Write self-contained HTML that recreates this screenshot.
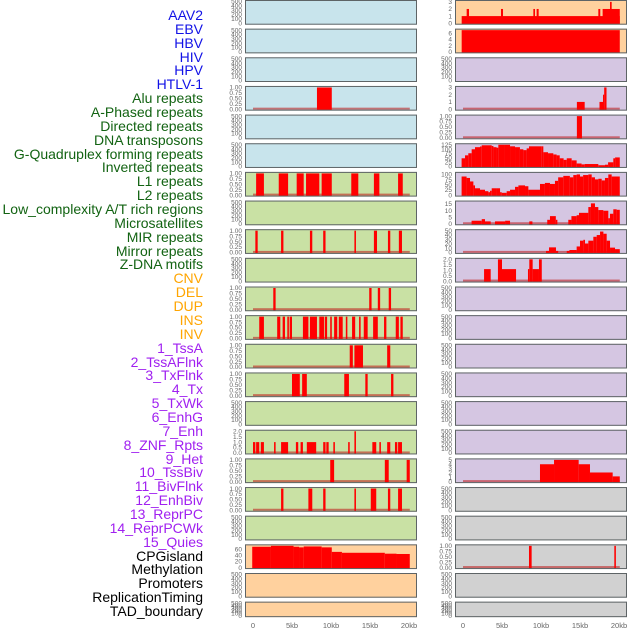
<!DOCTYPE html>
<html><head><meta charset="utf-8">
<style>
html,body{margin:0;padding:0;background:#fff;}
#wrap{position:relative;width:630px;height:630px;overflow:hidden;font-family:"Liberation Sans",sans-serif;}
.lab{position:absolute;right:427px;font-size:14px;line-height:14px;white-space:nowrap;}
svg{position:absolute;left:0;top:0;}
</style></head>
<body>
<div id="wrap">
<svg id="chart" width="630" height="630"></svg>
</div>
<script>
// ---- labels ----
const trackLabels = ["AAV2","EBV","HBV","HIV","HPV","HTLV-1","Alu repeats","A-Phased repeats","Directed repeats","DNA transposons","G-Quadruplex forming repeats","Inverted repeats","L1 repeats","L2 repeats","Low_complexity A/T rich regions","Microsatellites","MIR repeats","Mirror repeats","Z-DNA motifs","CNV","DEL","DUP","INS","INV","1_TssA","2_TssAFlnk","3_TxFlnk","4_Tx","5_TxWk","6_EnhG","7_Enh","8_ZNF_Rpts","9_Het","10_TssBiv","11_BivFlnk","12_EnhBiv","13_ReprPC","14_ReprPCWk","15_Quies","CPGisland","Methylation","Promoters","ReplicationTiming","TAD_boundary"];
const xTickVals = [0,5,10,15,20];
const xTickLabels = ["0","5kb","10kb","15kb","20kb"];
const ticks500 = [0,100,200,300,400,500];
const ticks1 = [0,0.25,0.5,0.75,1];
const ticks1Lab = ["0.00","0.25","0.50","0.75","1.00"];
const ticks2 = [0,0.5,1,1.5,2];
const ticks2Lab = ["0.0","0.5","1.0","1.5","2.0"];

// ---- data: [startKb, endKb, value] ----
const aav2Data = [[-0.17,20.1,1],[0.47,0.77,2],[4.87,5.13,2],[9.02,9.23,2],[9.44,9.7,2],[17.35,17.6,2],[17.9,20.1,2],[18.85,19.06,3]];
const ebvData = [[-0.17,20.1,7]];
const aluLeftData = [[8.2,10.1,1]];
const aluRightData = [[14.6,15.6,1],[17.5,17.95,1],[17.95,18.1,2],[18.1,18.4,3]];
const dirRightData = [[14.6,15.25,1]];
const gquadStarts = [-0.18,0.26,0.68,1.11,1.54,2.18,2.4,3.68,3.9,4.3,4.53,5.38,6.03,6.67,7.3,7.74,8.16,8.46,10.1,10.3,10.9,11.58,12,12.4,12.9,13.3,13.93,14.57,15.2,15.6,17.35,18.2,18.6,19.27,19.5];
const gquadVals = [47,64,76,99,111,115,122,118,111,108,125,125,116,111,99,94,104,116,116,82,76,69,64,47,38,47,35,17,12,14,7,10,24,47,52];
const l2Starts = [-0.18,0.46,0.9,1.33,1.54,2.18,2.82,3.25,3.46,3.68,4.3,4.75,4.96,5.6,6.03,6.67,7.1,7.95,8.38,9.87,10.5,11.15,11.79,12.2,12.86,13.7,14.14,14.57,15,15.4,16.07,16.5,16.92,17.35,17.78,18.2,18.63,19.06];
const l2Vals = [90,83,66,47,33,26,19,14,21,33,33,14,11,19,26,40,47,43,26,54,59,54,69,86,93,86,97,100,90,97,100,86,76,79,71,83,100,90];
const l1Data = [[0.4,1.4,1],[3.3,4.5,1],[5.6,6.5,1],[6.8,8.5,1],[8.8,10.1,1],[12.6,13.5,1],[15.5,16.2,1],[18.6,19.2,1]];
const microData = [[1.1,2.4,2.3],[2.4,2.82,3.5],[2.82,3.55,1.8],[4.1,5.4,1.8],[5.4,6.03,2.3],[8.5,8.9,1.8],[10.8,11.15,3],[11.15,11.9,5.8],[11.9,12.1,3],[13.5,13.9,3],[13.9,14.57,5.8],[14.57,14.87,6.5],[14.87,16.07,8.3],[16.07,16.4,12.7],[16.4,16.92,15.5],[16.92,17.35,12.7],[17.35,17.99,10.4],[17.99,18.63,9.9],[18.63,18.84,4.2],[18.84,19.27,7.6],[19.27,19.7,11],[19.7,20.1,10.6]];
const lowCompData = [[0.3,0.6,1],[3.6,3.9,1],[7.3,7.6,1],[9.0,9.3,1],[13.0,13.2,1],[15.5,15.9,1],[17.3,17.6,1],[18.7,19.1,1]];
const mirrorData = [[10.64,11.03,3.4],[11.03,11.92,11.6],[11.92,12.2,3.4],[13.3,13.64,3.4],[13.64,14.57,5.5],[14.57,15,13.7],[15,15.43,27],[15.43,15.64,29],[15.64,16.07,20.5],[16.07,16.71,27],[16.71,17.14,36],[17.14,17.57,40],[17.57,18,48],[18,18.42,43],[18.42,18.85,27],[18.85,19.49,11],[19.49,20.1,7.5]];
const zdnaData = [[2.7,3.55,1.1],[4.48,5.0,2.0],[5.0,6.8,1.1],[8.33,8.5,1.1],[8.5,8.93,2.0],[8.93,9.74,1.1],[9.74,10.1,2.0]];
const cnvData = [[2.6,2.9,1],[14.9,15.2,1],[16.0,16.3,1],[17.4,17.7,1]];
const insData = [[0.8,1.4,1],[3.1,3.5,1],[3.8,4.1,1],[4.4,4.6,1],[4.7,5.0,1],[6.4,7.1,1],[7.3,8.2,1],[8.5,9.1,1],[9.2,9.5,1],[9.9,10.1,1],[10.4,10.8,1],[11.0,11.5,1],[11.9,12.1,1],[12.7,13.1,1],[13.6,13.8,1],[14.2,14.7,1],[15.4,16.0,1],[16.8,17.1,1],[18.3,18.7,1],[18.9,19.2,1]];
const tssaData = [[12.4,12.8,1],[13.0,14.1,1],[17.2,17.6,1]];
const txflnkData = [[5.0,6.0,1],[6.3,6.9,1],[11.7,12.3,1],[14.4,14.7,1],[17.7,18.0,1]];
const enhData = [[0,0.3,1],[0.4,0.8,1],[1.0,1.4,1],[2.7,2.9,1],[3.6,4.5,1],[5.5,5.8,1],[6.1,6.4,1],[6.9,8.1,1],[9.0,9.3,1],[9.4,9.7,1],[10.3,10.5,1],[12.2,12.4,1],[13.0,13.2,2],[15.3,15.8,1],[16.2,16.4,1],[17.2,17.6,1],[18.2,18.5,1],[18.6,19.1,1]];
const hetData = [[9.9,10.4,1],[16.9,17.4,1],[19.7,20.1,1]];
const tssbivData = [[9.87,11.67,4.0],[11.67,14.83,5],[14.83,16.28,4.0],[16.28,19.19,2.1],[19.19,20.1,1.2]];
const bivflnkData = [[3.6,3.9,1],[7.1,7.6,1],[9.0,9.3,1],[13.0,13.2,1],[15.1,15.8,1],[17.3,17.6,1],[18.6,19.1,1]];
const cpgStarts = [-0.1,2.3,5.2,5.9,6.5,8.8,10.1,11.4,16.9,18.4];
const cpgVals = [69,72,69,67,70,67,52,49,46,45];
const methData = [[8.46,8.8,1],[19.4,19.6,1]];

function steps(starts, vals, end){ return starts.map((s,i)=>[s, i<starts.length-1?starts[i+1]:end, vals[i]]); }

const C_BLUE="#c8e4ec", C_PEACH="#ffd19e", C_LILAC="#d5c6e2", C_GREEN="#c9e1a4", C_GRAY="#d1d1d1";
// panel configs: [name, bg, ymax, ticks, tickLabels, data, baseline]
const panelCfg = [
 ["aav2",C_BLUE,500,ticks500,null,null,false],["ebv",C_PEACH,3.05,[0,1,2,3],null,aav2Data,false],
 ["hbv",C_BLUE,500,ticks500,null,null,false],["hiv",C_PEACH,7,[0,2,4,6],null,ebvData,false],
 ["hpv",C_BLUE,500,ticks500,null,null,false],["htlv1",C_LILAC,500,ticks500,null,null,false],
 ["alu",C_BLUE,1,ticks1,ticks1Lab,aluLeftData,true],["a-phased",C_LILAC,3,[0,1,2,3],null,aluRightData,true],
 ["directed",C_BLUE,500,ticks500,null,null,false],["dna-transposons",C_LILAC,1,ticks1,ticks1Lab,dirRightData,true],
 ["g-quadruplex",C_BLUE,500,ticks500,null,null,false],["inverted",C_LILAC,125,[0,25,50,75,100,125],null,steps(gquadStarts,gquadVals,20.1),false],
 ["l1",C_GREEN,1,ticks1,ticks1Lab,l1Data,true],["l2",C_LILAC,105,[0,25,50,75,100],null,steps(l2Starts,l2Vals,20.1),false],
 ["low-complexity",C_GREEN,500,ticks500,null,null,false],["microsatellites",C_LILAC,16.5,[0,5,10,15],null,microData,true],
 ["mir",C_GREEN,1,ticks1,ticks1Lab,lowCompData,true],["mirror",C_LILAC,50,[0,10,20,30,40,50],null,mirrorData,true],
 ["z-dna",C_GREEN,500,ticks500,null,null,false],["cnv",C_LILAC,2,ticks2,ticks2Lab,zdnaData,true],
 ["del",C_GREEN,1,ticks1,ticks1Lab,cnvData,true],["dup",C_LILAC,500,ticks500,null,null,false],
 ["ins",C_GREEN,1,ticks1,ticks1Lab,insData,true],["inv",C_LILAC,500,ticks500,null,null,false],
 ["tssa",C_GREEN,1,ticks1,ticks1Lab,tssaData,true],["tssaflnk",C_LILAC,500,ticks500,null,null,false],
 ["txflnk",C_GREEN,1,ticks1,ticks1Lab,txflnkData,true],["tx",C_LILAC,500,ticks500,null,null,false],
 ["txwk",C_GREEN,500,ticks500,null,null,false],["enhg",C_LILAC,500,ticks500,null,null,false],
 ["enh",C_GREEN,2,ticks2,ticks2Lab,enhData,true],["znf-rpts",C_LILAC,500,ticks500,null,null,false],
 ["het",C_GREEN,1,ticks1,ticks1Lab,hetData,true],["tssbiv",C_LILAC,5,[0,1,2,3,4,5],null,tssbivData,true],
 ["bivflnk",C_GREEN,1,ticks1,ticks1Lab,bivflnkData,true],["enhbiv",C_GRAY,500,ticks500,null,null,false],
 ["reprpc",C_GREEN,500,ticks500,null,null,false],["reprpcwk",C_GRAY,500,ticks500,null,null,false],
 ["quies",C_PEACH,72,[0,20,40,60],null,steps(cpgStarts,cpgVals,20.1),false],["cpgisland",C_GRAY,1,ticks1,ticks1Lab,methData,true],
 ["methylation",C_PEACH,500,ticks500,null,null,false],["promoters",C_GRAY,500,ticks500,null,null,false],
 ["replication-timing",C_PEACH,500,ticks500,null,null,false],["tad-boundary",C_GRAY,500,ticks500,null,null,false]
];

const NS="http://www.w3.org/2000/svg";
const svg=document.getElementById('chart');
function mk(tag, attrs, parent){const e=document.createElementNS(NS,tag);for(const k in attrs)e.setAttribute(k,attrs[k]);(parent||svg).appendChild(e);return e;}

// labels
const labColors = i => i<6?"#1212e6":i<19?"#126312":i<24?"#ffa500":i<39?"#a020f0":"#000";
const wrap=document.getElementById('wrap');
trackLabels.forEach((t,i)=>{
 const d=document.createElement('div');
 d.className='lab';
 d.textContent=t;
 d.style.top=(8+i*13.86)+'px';
 d.style.color=labColors(i);
 
 
 wrap.appendChild(d);
});

const colX=[245,455], panelW=172, zeroX=[253,463], pxPerKb=7.8;
panelCfg.forEach((cfg,idx)=>{
 const row=Math.floor(idx/2), col=idx%2;
 const top=row*28.65, h=row===21?15.5:24.7, left=colX[col];
 const [name,bg,ymax,tks,tkl,data,baseline]=cfg;
 const g=mk('g',{});
 
 
 const bot=top+h-1.5, span=h-3;
 const yS=v=>bot-v/ymax*span;
 const xS=k=>zeroX[col]+k*pxPerKb;
 mk('rect',{x:left,y:top,width:panelW,height:h,fill:bg},g);
 if(baseline){const bl=mk('rect',{x:xS(0),y:bot-1.5,width:xS(20.1)-xS(0),height:2,fill:"rgba(190,20,20,0.55)"},g);
  
  }
 if(data){data.forEach(d=>{
  const r=mk('rect',{x:xS(d[0]),y:yS(d[2]),width:Math.max(0.8,xS(d[1])-xS(d[0])),height:bot+1-yS(d[2]),fill:"#ff0000"},g);
  
  
 });}
 mk('rect',{x:left+0.5,y:top+0.5,width:panelW-1,height:h-1,fill:"none",stroke:"#5e6466","stroke-width":1},g);
 tks.forEach((v,i)=>{
  const t=mk('text',{x:left-3,y:yS(v)+2.2,"text-anchor":"end","font-size":"6.5","fill":"#666","font-family":"Liberation Sans, sans-serif"},g);
  t.textContent=tkl?tkl[i]:String(v);
 });
});
// x axes
[0,1].forEach(col=>{
 xTickVals.forEach((v,i)=>{
  const t=mk('text',{x:zeroX[col]+v*pxPerKb,y:628,"text-anchor":"middle","font-size":"7.5","fill":"#666","font-family":"Liberation Sans, sans-serif"});
  
  
  t.textContent=xTickLabels[i];
 });
});
</script>
</body></html>
